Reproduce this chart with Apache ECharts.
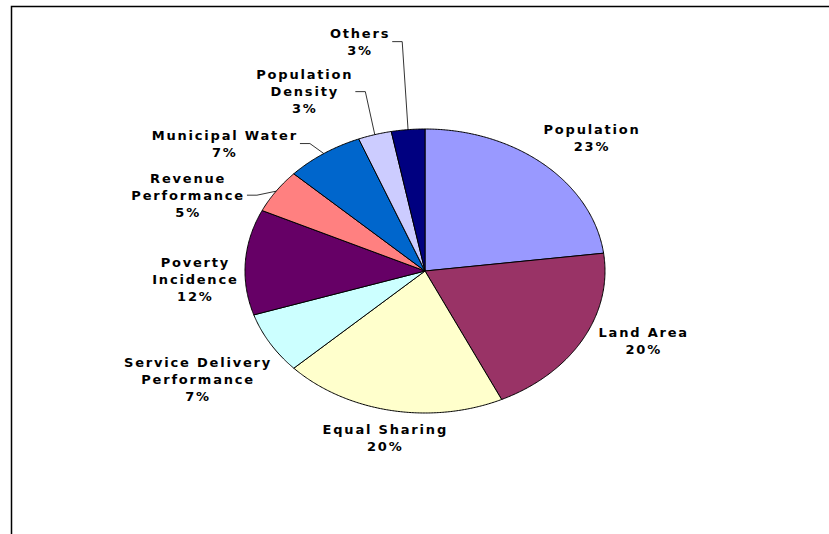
<!DOCTYPE html>
<html>
<head>
<meta charset="utf-8">
<script src="https://cdn.jsdelivr.net/npm/echarts@6/dist/echarts.min.js"></script>
<style>
  html, body { margin: 0; padding: 0; background: #ffffff; }
  #chart { width: 829px; height: 534px; }
  #chart text { letter-spacing: 1.8px; }
</style>
</head>
<body>
<div id="chart"></div>
<script>
// Allocation criteria and their shares (percent)
const categories = [
  'Population', 'Land Area', 'Equal Sharing', 'Service Delivery Performance',
  'Poverty Incidence', 'Revenue Performance', 'Municipal Water',
  'Population Density', 'Others'
];
const labelRows = [
  ['Population'], ['Land Area'], ['Equal Sharing'], ['Service Delivery', 'Performance'],
  ['Poverty', 'Incidence'], ['Revenue', 'Performance'], ['Municipal Water'],
  ['Population', 'Density'], ['Others']
];
const shares = [23, 20, 20, 7, 12, 5, 7, 3, 3];
const sliceColors = ['#9999FF', '#993366', '#FFFFCC', '#CCFFFF', '#660066',
                     '#FF8080', '#0066CC', '#CCCCFF', '#000080'];

// Label placement relative to each slice's outer mid-point, and leader-line flags
const labelShift = [[48, -26], [61, 2], [-6, 28], [-72, 36], [-50, 17],
                    [-88, 4], [-99, -10], [-70, -43], [-48, -88]];
const withLeader = [false, false, false, false, false, true, true, true, true];

// Ellipse geometry of the pie
const CX = 425, CY = 271, RX = 180, RY = 142;
const FONT = 'bold 13px "DejaVu Sans"';
const LINE_H = 17;

const total = shares.reduce((a, b) => a + b, 0);
const cumStart = [];
shares.reduce((acc, v, i) => { cumStart[i] = acc; return acc + v; }, 0);

function pt(deg) {
  const r = deg * Math.PI / 180;
  return [CX + RX * Math.sin(r), CY - RY * Math.cos(r)];
}

const measureCtx = document.createElement('canvas').getContext('2d');
measureCtx.font = FONT;
try { measureCtx.letterSpacing = '1.8px'; } catch (e) {}

function renderItem(params, api) {
  const i = params.dataIndex;
  const v = api.value(0);
  const a0 = cumStart[i] / total * 360;
  const a1 = a0 + v / total * 360;
  const points = [[CX, CY]];
  const steps = Math.max(4, Math.ceil((a1 - a0) / 0.5));
  for (let k = 0; k <= steps; k++) points.push(pt(a0 + (a1 - a0) * k / steps));

  const mid = pt((a0 + a1) / 2);
  const lx = mid[0] + labelShift[i][0];
  const ly = mid[1] + labelShift[i][1];
  const pct = Math.round(v / total * 100) + '%';
  const rows = labelRows[i].concat([pct]);

  const children = [{
    type: 'polygon',
    shape: { points },
    style: { fill: sliceColors[i], stroke: '#000', lineWidth: 1, lineJoin: 'round' }
  }, {
    type: 'text',
    x: lx, y: ly,
    style: {
      text: rows.join('\n'), font: FONT, fill: '#000',
      align: 'center', verticalAlign: 'middle', lineHeight: LINE_H
    }
  }];

  if (withLeader[i]) {
    const w = Math.max(...rows.map(r => measureCtx.measureText(r).width));
    const sx = lx + w / 2 + 2;
    children.push({
      type: 'polyline',
      shape: { points: [[sx, ly], [sx + 10, ly], mid] },
      style: { stroke: '#000', lineWidth: 0.8, fill: null }
    });
  }
  return { type: 'group', children };
}

const chart = echarts.init(document.getElementById('chart'), null, { renderer: 'svg' });
chart.setOption({
  backgroundColor: '#ffffff',
  animation: false,
  graphic: [{
    type: 'rect',
    shape: { x: 11.5, y: 6.5, width: 900, height: 600 },
    style: { fill: 'none', stroke: '#000', lineWidth: 1.5 },
    silent: true
  }],
  series: [{
    type: 'custom',
    coordinateSystem: 'none',
    renderItem,
    data: shares.map((v, i) => ({ name: categories[i], value: v }))
  }]
});
</script>
</body>
</html>
